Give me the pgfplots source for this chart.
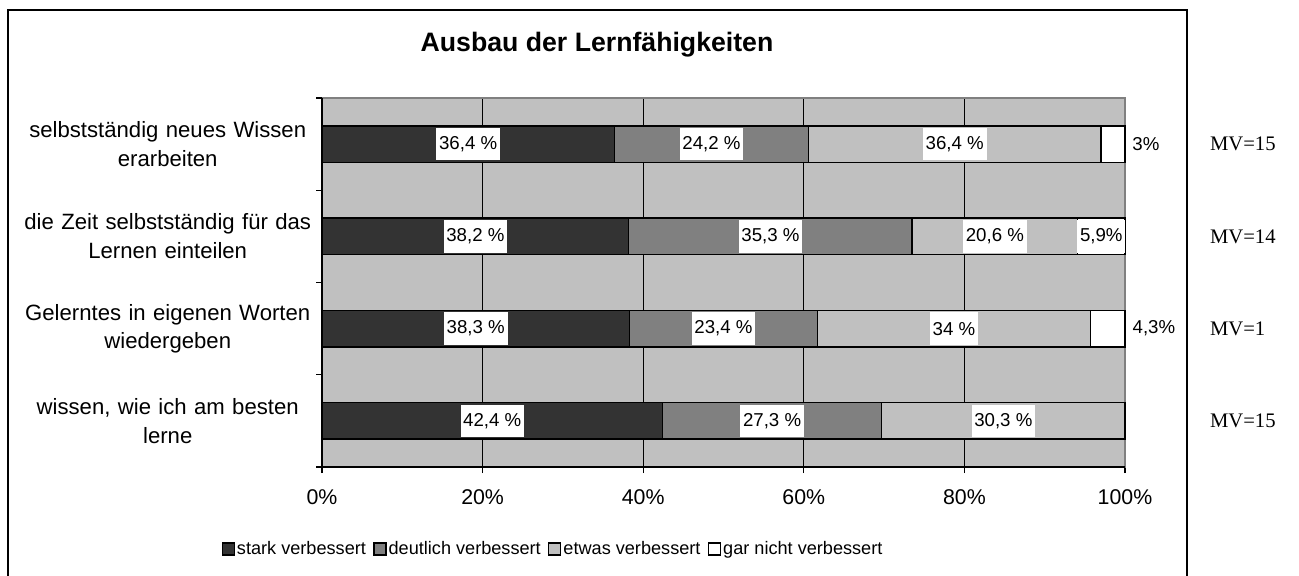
\documentclass[border=0pt]{standalone}
\usepackage{pgfplots}
\pgfplotsset{compat=1.18}
\usepackage{fontspec}
\setmainfont{Liberation Sans}
\newfontfamily\serif{Liberation Serif}
\definecolor{cdark}{HTML}{333333}
\definecolor{cmid}{HTML}{808080}
\definecolor{clight}{HTML}{C0C0C0}

% shared geometry: 1px = 0.75pt
\pgfplotsset{
  base/.style={
    scale only axis, width=602.25pt, height=276.75pt,
    at={(241.5pt,81pt)}, anchor=south west,
    xmin=0, xmax=100, ymin=-0.5, ymax=3.5, clip=false,
  },
  seg/.style={fill=#1, draw=black, line width=1.1pt},
}

\begin{document}
\begin{tikzpicture}
\path[use as bounding box] (0,0) rectangle (974.25pt,431.25pt);
\draw[black, line width=1.1pt] (6pt,423.75pt) rectangle (890.25pt,-10pt);
\node[font=\bfseries\fontsize{20}{24}\selectfont] at (447.75pt,397.5pt) {Ausbau der Lernfähigkeiten};

\begin{axis}[base,
    xbar stacked, bar width=27.5pt,
    axis background/.style={fill=clight},
    axis line style={draw=cmid, line width=1pt},
    xtick={0,20,40,60,80,100},
    xticklabels={0\%,20\%,40\%,60\%,80\%,100\%},
    xticklabel style={font=\fontsize{16}{19}\selectfont, yshift=-9pt},
    xmajorgrids, major grid style={black, line width=0.8pt},
    tick align=outside, major tick length=4.5pt,
    xtick pos=lower, ytick pos=left,
    xtick style={black, line width=0.8pt},
    ytick={0,1,2,3},
    yticklabels={{wissen, wie ich am besten\\lerne},
                 {Gelerntes in eigenen Worten\\wiedergeben},
                 {die Zeit selbstständig für das\\Lernen einteilen},
                 {selbstständig neues Wissen\\erarbeiten}},
    yticklabel style={font=\fontsize{16.6}{21.5}\selectfont, text width=225pt,
                      align=center, anchor=east, inner xsep=0pt, xshift=1.5pt},
    ytick style={draw=none},
    extra y ticks={-0.5,0.5,1.5,2.5,3.5},
    extra y tick labels={,,,,},
    extra y tick style={ytick style={draw=black, line width=0.8pt}},
    legend columns=4,
    legend style={draw=none, fill=none, at={(0.2877,-0.2222)}, anchor=center,
                  font=\fontsize{13.6}{16}\selectfont,
                  nodes={inner xsep=1.5pt},
                  /tikz/every even column/.append style={column sep=4pt}},
    legend image code/.code={\draw[#1, line width=1pt] (0pt,-4.5pt) rectangle (9pt,4.5pt);},
    after end axis/.code={\draw[black, line width=1pt] (rel axis cs:0,1) -- (rel axis cs:0,0) -- (rel axis cs:1,0);},
]
\addplot[seg=cdark]  coordinates {(42.4,0) (38.3,1) (38.2,2) (36.4,3)};
\addplot[seg=cmid]   coordinates {(27.3,0) (23.4,1) (35.3,2) (24.2,3)};
\addplot[seg=clight] coordinates {(30.3,0) (34,1) (20.6,2) (36.4,3)};
\addplot[seg=white]  coordinates {(0,0) (4.3,1) (5.9,2) (3,3)};
\legend{stark verbessert, deutlich verbessert, etwas verbessert, gar nicht verbessert}
\end{axis}

% value labels and MV notes
\begin{axis}[base, hide axis]
\addplot[only marks, mark=none, point meta=explicit symbolic,
    nodes near coords, nodes near coords align={center},
    every node near coord/.append style={fill=white, inner xsep=2pt, inner ysep=0pt,
        minimum height=24.5pt, font=\fontsize{14}{16}\selectfont}]
  coordinates {
    (18.2,3) [36,4 \%] (48.5,3) [24,2 \%] (78.8,3) [36,4 \%]
    (19.1,2) [38,2 \%] (55.85,2) [35,3 \%] (83.8,2) [20,6 \%] (97.05,2) [5,9\%]
    (19.15,1) [38,3 \%] (50,1) [23,4 \%] (78.7,1) [34 \%]
    (21.2,0) [42,4 \%] (56.05,0) [27,3 \%] (84.85,0) [30,3 \%]
  };
\addplot[only marks, mark=none, point meta=explicit symbolic,
    nodes near coords, nodes near coords align={center},
    every node near coord/.append style={font=\fontsize{14}{16}\selectfont}]
  coordinates {(102.6,3) [3\%] (103.6,1) [4,3\%]};
\addplot[only marks, mark=none, point meta=explicit symbolic,
    nodes near coords, nodes near coords align={west},
    every node near coord/.append style={font=\serif\fontsize{15.5}{18}\selectfont}]
  coordinates {(110,3) [MV=15] (110,2) [MV=14] (110,1) [MV=1] (110,0) [MV=15]};
\end{axis}
\end{tikzpicture}
\end{document}
